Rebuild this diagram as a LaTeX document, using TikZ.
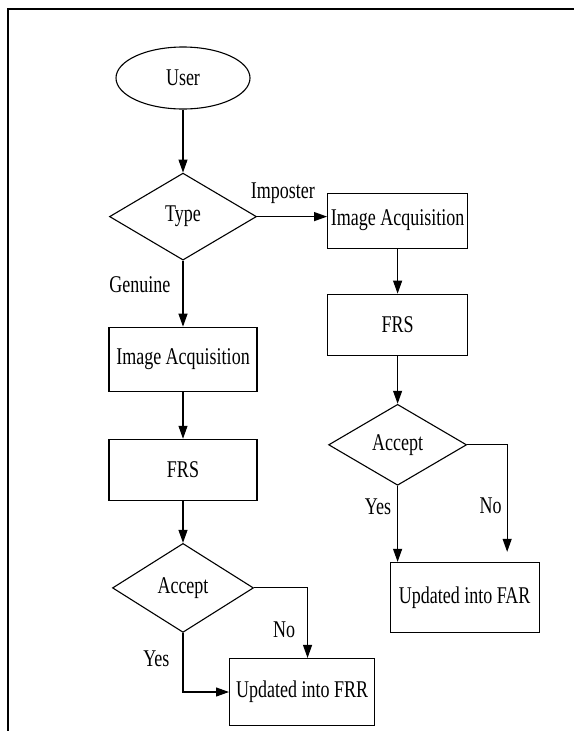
\documentclass[tikz,border=0pt]{standalone}
\usepackage{fontspec}
\setmainfont[FakeStretch=0.75]{Liberation Serif}
\usetikzlibrary{arrows.meta,positioning,shapes.geometric}

\begin{document}
\begin{tikzpicture}[x=1pt,y=-1pt,
font=\fontsize{24}{28}\selectfont,
box/.style={draw, line width=1.1pt, align=center, inner sep=0pt},
decision/.style={draw, diamond, line width=1.1pt, inner sep=0pt},
terminal/.style={draw, ellipse, line width=1.1pt, inner sep=0pt, minimum width=134pt, minimum height=62pt},
arrow/.style={-{Triangle[length=13pt,width=9pt]}, line width=1.1pt},
lbl/.style={inner sep=0pt}
]
\useasboundingbox (0,0) rectangle (574,731);
\draw[line width=2pt] (8,731) -- (8,9) -- (574,9);

\node[terminal] (user) at (183,78) {User};
\node[decision, minimum width=147pt, minimum height=87pt, below=63pt of user] (type) {Type};
\node[box, minimum width=148pt, minimum height=64pt, below=66pt of type] (acqL) {Image Acquisition};
\node[box, minimum width=148pt, minimum height=61pt, below=47pt of acqL] (frsL) {FRS};
\node[decision, minimum width=141pt, minimum height=89pt, below=42pt of frsL] (accL) {Accept};
\node[box, minimum width=145pt, minimum height=67pt, below right=25pt and 46pt of accL.south] (frr) {Updated into FRR};
\node[box, minimum width=140pt, minimum height=55pt, right=70pt of type, yshift=-4pt] (acqR) {Image Acquisition};
\node[box, minimum width=140pt, minimum height=61pt, below=45pt of acqR] (frsR) {FRS};
\node[decision, minimum width=138pt, minimum height=81pt, below=48pt of frsR] (accR) {Accept};
\node[box, minimum width=149pt, minimum height=70pt, below right=76pt and -8pt of accR.south] (far) {Updated into FAR};

\draw[arrow] (user) -- (type);
\draw[arrow] (type.east) -- (type.east -| acqR.west) node[lbl, pos=0.37, above=12pt] (imp) {Imposter};
\draw[arrow] (type) -- (acqL) node[lbl, pos=0.36, left=12pt] (gen) {Genuine};
\draw[arrow] (acqL) -- (frsL);
\draw[arrow] (frsL) -- (accL);
\draw[arrow] (accL.east) -| ([xshift=5.5pt]frr.north) node[lbl, pos=0.8, left=12pt] (noL) {No};
\draw[arrow] (accL.south) |- (frr.west) node[lbl, pos=0.22, left=13pt] (yesL) {Yes};
\draw[arrow] (acqR) -- (frsR);
\draw[arrow] (frsR) -- (accR);
\draw[arrow] (accR.south) -- (accR.south |- far.north) node[lbl, pos=0.28, left=6pt] (yesR) {Yes};
\draw[arrow, shorten >=10pt] (accR.east) -| ([xshift=42.5pt]far.north) node[lbl, pos=0.76, left=5pt] (noR) {No};
\end{tikzpicture}
\end{document}
